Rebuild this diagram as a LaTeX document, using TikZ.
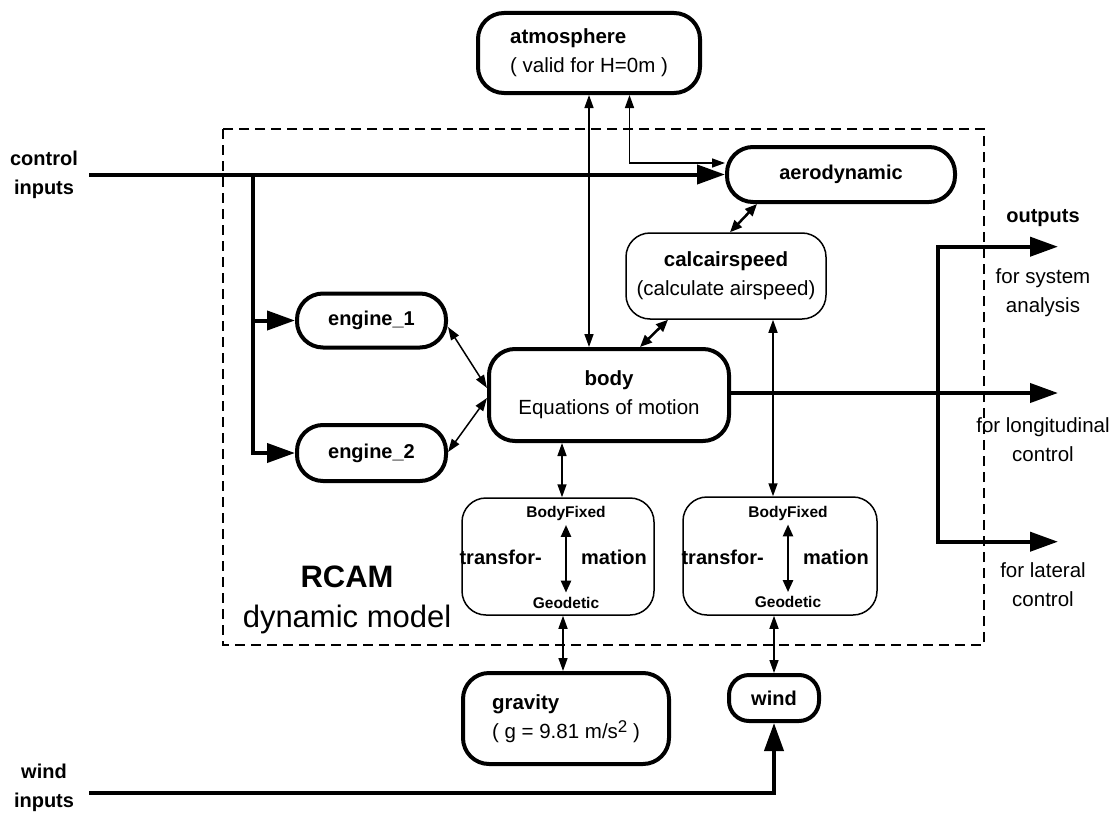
\documentclass[tikz,border=0pt]{standalone}
\usepackage{fontspec}
\setmainfont{Liberation Sans}
\usetikzlibrary{arrows.meta}

\tikzset{
  block/.style = {draw, line width=4pt, rounded corners=26pt, inner sep=0pt},
  thinblock/.style = {draw, line width=1.5pt, rounded corners=24pt, inner sep=0pt},
  txt/.style = {font=\fontsize{20.5}{29}\selectfont, align=center},
  boldtxt/.style = {font=\fontsize{20}{29}\selectfont\bfseries, align=center},
  smalltxt/.style = {font=\fontsize{15.5}{17}\selectfont\bfseries, inner sep=1pt},
  bigarrow/.style = {line width=4pt, -{Triangle[length=28pt,width=19pt]}},
  thinlink/.style = {line width=1.5pt,
    {Triangle[length=13pt,width=9pt]}-{Triangle[length=13pt,width=9pt]}},
  midlink/.style = {line width=2.5pt,
    {Triangle[length=12pt,width=10pt]}-{Triangle[length=12pt,width=10pt]}},
}

\begin{document}
\begin{tikzpicture}[x=1pt,y=-1pt]
  \useasboundingbox (0,0) rectangle (1113,816);
  \draw[line width=1.8pt, dash pattern=on 10pt off 6pt] (223,129) rectangle (984,645);

  \node[block, txt, align=left, minimum width=222pt, minimum height=80pt] (atmo) at (589,53)
    {\textbf{atmosphere}\\( valid for H=0m )};
  \node[block, boldtxt, minimum width=228pt, minimum height=55pt] (aero) at (841,174.5)
    {aerodynamic};
  \node[thinblock, txt, minimum width=200pt, minimum height=86pt] (calc) at (726,276)
    {\textbf{calcairspeed}\\(calculate airspeed)};
  \node[block, boldtxt, minimum width=149pt, minimum height=54pt] (eng1) at (371.5,320.5)
    {engine\_1};
  \node[block, boldtxt, minimum width=149pt, minimum height=56pt] (eng2) at (371.5,453)
    {engine\_2};
  \node[block, txt, minimum width=240pt, minimum height=92pt] (body) at (609,395)
    {\textbf{body}\\Equations of motion};
  \node[thinblock, minimum width=192pt, minimum height=117pt] (trL) at (558,556.5) {};
  \node[thinblock, minimum width=194pt, minimum height=118pt] (trR) at (780,556) {};
  \node[block, txt, align=left, minimum width=206pt, minimum height=91pt] (grav) at (566,718.5)
    {\textbf{gravity}\\( g = 9.81 m/s\raisebox{6pt}{\fontsize{17}{17}\selectfont 2} )};
  \node[block, boldtxt, minimum width=90pt, minimum height=46pt, rounded corners=20pt] (wind)
    at (774,698) {wind};

  \foreach \b in {trL,trR} {
    \node[smalltxt] (\b-bf) at ([shift={(8,-43)}]\b.center) {BodyFixed};
    \node[smalltxt] (\b-geo) at ([shift={(8,46)}]\b.center) {Geodetic};
    \draw[midlink, shorten <=3pt, shorten >=3pt] (\b-bf) -- (\b-geo);
    \node[boldtxt, anchor=east, inner sep=0pt] (\b-tf) at ([shift={(-16,1)}]\b.center) {transfor-};
    \node[boldtxt, anchor=west, inner sep=0pt] (\b-ma) at ([shift={(23,1)}]\b.center) {mation};
  };

  \node[font=\fontsize{31}{40}\selectfont, align=center] (rcam) at (347,600)
    {\textbf{RCAM}\\dynamic model};

  \coordinate (ctrlin) at (89,174.5);
  \coordinate (ctrlsplit) at (253,174.5);
  \draw[bigarrow] (ctrlin) -- (aero);
  \draw[bigarrow] (ctrlsplit) |- (eng2);
  \draw[bigarrow] (ctrlsplit |- eng1) -- (eng1);
  \node[boldtxt] (ctrllabel) at (44,175) {control\\inputs};

  \coordinate (windin) at (89,793);
  \draw[bigarrow] (windin) -| (wind);
  \node[boldtxt] (windlabel) at (44,788) {wind\\inputs};

  \draw[thinlink] (atmo.south) -- (atmo.south |- body.north);
  \draw[thinlink] ([xshift=40.5pt]atmo.south) |- ([yshift=11.5pt]aero.west);
  \draw[midlink] ([xshift=-84pt]aero.south) -- ([xshift=4pt]calc.north);
  \draw[midlink] ([xshift=-58pt]calc.south) -- ([xshift=31pt]body.north);
  \draw[thinlink] ([yshift=-6.5pt]eng1.east) -- ([yshift=7pt]body.west);
  \draw[thinlink] ([yshift=1pt]eng2.east) -- ([yshift=-3pt]body.west);
  \draw[thinlink] ([xshift=4pt]trL.north) -- ([xshift=4pt]trL.north |- body.south);
  \draw[thinlink] ([xshift=-7pt]trR.north) -- ([xshift=-7pt]trR.north |- calc.south);
  \draw[thinlink] ([xshift=-3pt]grav.north) -- ([xshift=-3pt]grav.north |- trL.south);
  \draw[thinlink] (wind.north) -- (wind.north |- trR.south);

  \coordinate (outsplit) at (938,393);
  \coordinate (out1) at (1058,246.7);
  \coordinate (out2) at (1058,393);
  \coordinate (out3) at (1058,541.7);
  \draw[bigarrow] ([yshift=2pt]body.east) -- (out2);
  \draw[bigarrow] (outsplit) |- (out1);
  \draw[bigarrow] (outsplit) |- (out3);
  \node[boldtxt] (outlabel) at (1043,218) {outputs};
  \node[txt] (sysout) at (1043,292.5) {for system\\analysis};
  \node[txt] (lonout) at (1043,440) {for longitudinal\\control};
  \node[txt] (latout) at (1043,585) {for lateral\\control};
\end{tikzpicture}
\end{document}
